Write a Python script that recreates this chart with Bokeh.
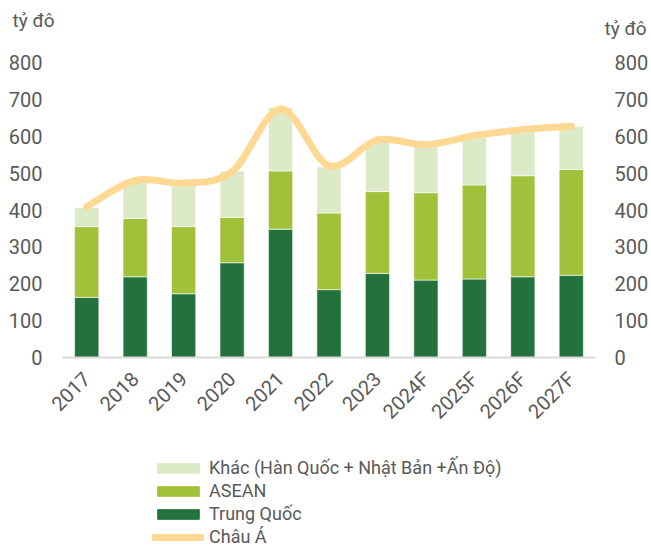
import math
from bokeh.plotting import figure
from bokeh.layouts import column
from bokeh.models import (ColumnDataSource, Range1d, FixedTicker, LinearAxis,
                          Legend, LegendItem, Label, Plot)
from bokeh.embed import file_html
from bokeh.resources import INLINE

years = ["2017", "2018", "2019", "2020", "2021", "2022", "2023",
         "2024F", "2025F", "2026F", "2027F"]
trung_quoc = [163, 219, 173, 257, 348, 184, 228, 210, 213, 219, 223]
asean = [192, 158, 182, 123, 158, 208, 222, 237, 255, 274, 287]
khac = [52, 100, 115, 126, 171, 125, 138, 133, 129, 122, 117]
chau_a = [409, 480, 473, 504, 674, 520, 590, 577, 602, 618, 627]
y_ticks = [0, 100, 200, 300, 400, 500, 600, 700, 800]
unit = "tỷ đô"
legend_labels = ["Khác (Hàn Quốc + Nhật Bản +Ấn Độ)", "ASEAN", "Trung Quốc", "Châu Á"]

C_TQ = "#23723E"
C_AS = "#A2C13B"
C_KH = "#DCEAC8"
C_LINE = "#FFD994"
TXT = "#595959"
FONT = "Roboto"
W = 651
HAS_FA = "frame_align" in Plot.properties()


def bare(fig, free=False):
    fig.outline_line_color = None
    fig.background_fill_color = "white"
    fig.border_fill_color = "white"
    fig.xgrid.visible = False
    fig.ygrid.visible = False
    if free and HAS_FA:
        fig.frame_align = False
    return fig


xs = list(range(len(years)))
src = ColumnDataSource(dict(x=xs, tq=trung_quoc, asean=asean, khac=khac, ca=chau_a))

# ---- top strip with the unit labels ----
top = bare(figure(width=W, height=40, x_range=Range1d(0, W), y_range=Range1d(0, 40),
                  x_axis_type=None, y_axis_type=None, output_backend="svg",
                  toolbar_location=None, min_border=0), free=True)
top.add_layout(Label(x=12, y=20, text=unit, text_font=FONT, text_font_size="19px",
                     text_color=TXT, text_baseline="middle"))
top.add_layout(Label(x=604, y=12, text=unit, text_font=FONT, text_font_size="19px",
                     text_color=TXT, text_baseline="middle"))

# ---- main chart ----
p = bare(figure(width=W, height=400, x_range=Range1d(-0.5, len(years) - 0.5),
                y_range=Range1d(0, 800), output_backend="svg", toolbar_location=None,
                min_border_left=62, min_border_right=54, min_border_top=22,
                min_border_bottom=83))

p.vbar_stack(["tq", "asean", "khac"], x="x", width=0.5, source=src,
             color=[C_TQ, C_AS, C_KH], line_color="white", line_width=0.6)

# smoothed line (Excel-like) drawn as bezier segments through the data points
n = len(chau_a)
seg = dict(x0=[], y0=[], x1=[], y1=[], cx0=[], cy0=[], cx1=[], cy1=[])
for i in range(n - 1):
    im, ia, ib, inn = max(i - 1, 0), i, i + 1, min(i + 2, n - 1)
    seg["x0"].append(xs[ia]); seg["y0"].append(chau_a[ia])
    seg["x1"].append(xs[ib]); seg["y1"].append(chau_a[ib])
    seg["cx0"].append(xs[ia] + (xs[ib] - xs[im]) / 6.0)
    seg["cy0"].append(chau_a[ia] + (chau_a[ib] - chau_a[im]) / 6.0)
    seg["cx1"].append(xs[ib] - (xs[inn] - xs[ia]) / 6.0)
    seg["cy1"].append(chau_a[ib] - (chau_a[inn] - chau_a[ia]) / 6.0)
p.bezier(x0="x0", y0="y0", x1="x1", y1="y1", cx0="cx0", cy0="cy0",
         cx1="cx1", cy1="cy1", source=ColumnDataSource(seg), line_color=C_LINE,
         line_width=7, line_cap="round")

xa = p.xaxis[0]
xa.ticker = FixedTicker(ticks=xs)
xa.major_label_overrides = {i: y for i, y in enumerate(years)}
xa.major_label_orientation = math.pi / 4
xa.major_label_text_font = FONT
xa.major_label_text_font_size = "20px"
xa.major_label_text_color = TXT
xa.major_tick_line_color = None
xa.minor_tick_line_color = None
xa.major_tick_out = 0
xa.major_label_standoff = 18
xa.axis_line_color = "#D9D9D9"
xa.axis_line_width = 2

ya = p.yaxis[0]
ra = LinearAxis()
p.add_layout(ra, "right")
for ax, so in ((ya, 20), (ra, 19)):
    ax.ticker = FixedTicker(ticks=y_ticks)
    ax.axis_line_color = None
    ax.major_tick_line_color = None
    ax.minor_tick_line_color = None
    ax.major_tick_out = 0
    ax.major_label_standoff = so
    ax.major_label_text_font = FONT
    ax.major_label_text_font_size = "20px"
    ax.major_label_text_color = TXT

# ---- legend strip (hidden copies of the series supply the swatches) ----
LH = 109
lg = bare(figure(width=W, height=LH, x_range=Range1d(-0.5, len(years) - 0.5),
                 y_range=Range1d(0, 800), x_axis_type=None, y_axis_type=None,
                 output_backend="svg", toolbar_location=None, min_border=0), free=True)
hb = lg.vbar_stack(["tq", "asean", "khac"], x="x", width=0.5, source=src,
                   color=[C_TQ, C_AS, C_KH], visible=False)
hl = lg.line(x="x", y="ca", source=src, line_color=C_LINE, line_width=7,
             line_cap="round", visible=False)
legend = Legend(items=[LegendItem(label=t, renderers=[r])
                       for t, r in zip(legend_labels, [hb[2], hb[1], hb[0], hl])],
                location=(152, 1), orientation="vertical")
legend.border_line_color = None
legend.background_fill_alpha = 0
legend.padding = 0
legend.margin = 0
legend.spacing = 0
legend.label_height = 23
legend.glyph_height = 12
legend.glyph_width = 52
legend.label_standoff = 5
legend.label_text_font = FONT
legend.label_text_font_size = "18px"
legend.label_text_color = TXT
lg.add_layout(legend, "center")

layout = column(top, p, lg, spacing=0)
open("out.html", "w").write(file_html(layout, INLINE))
